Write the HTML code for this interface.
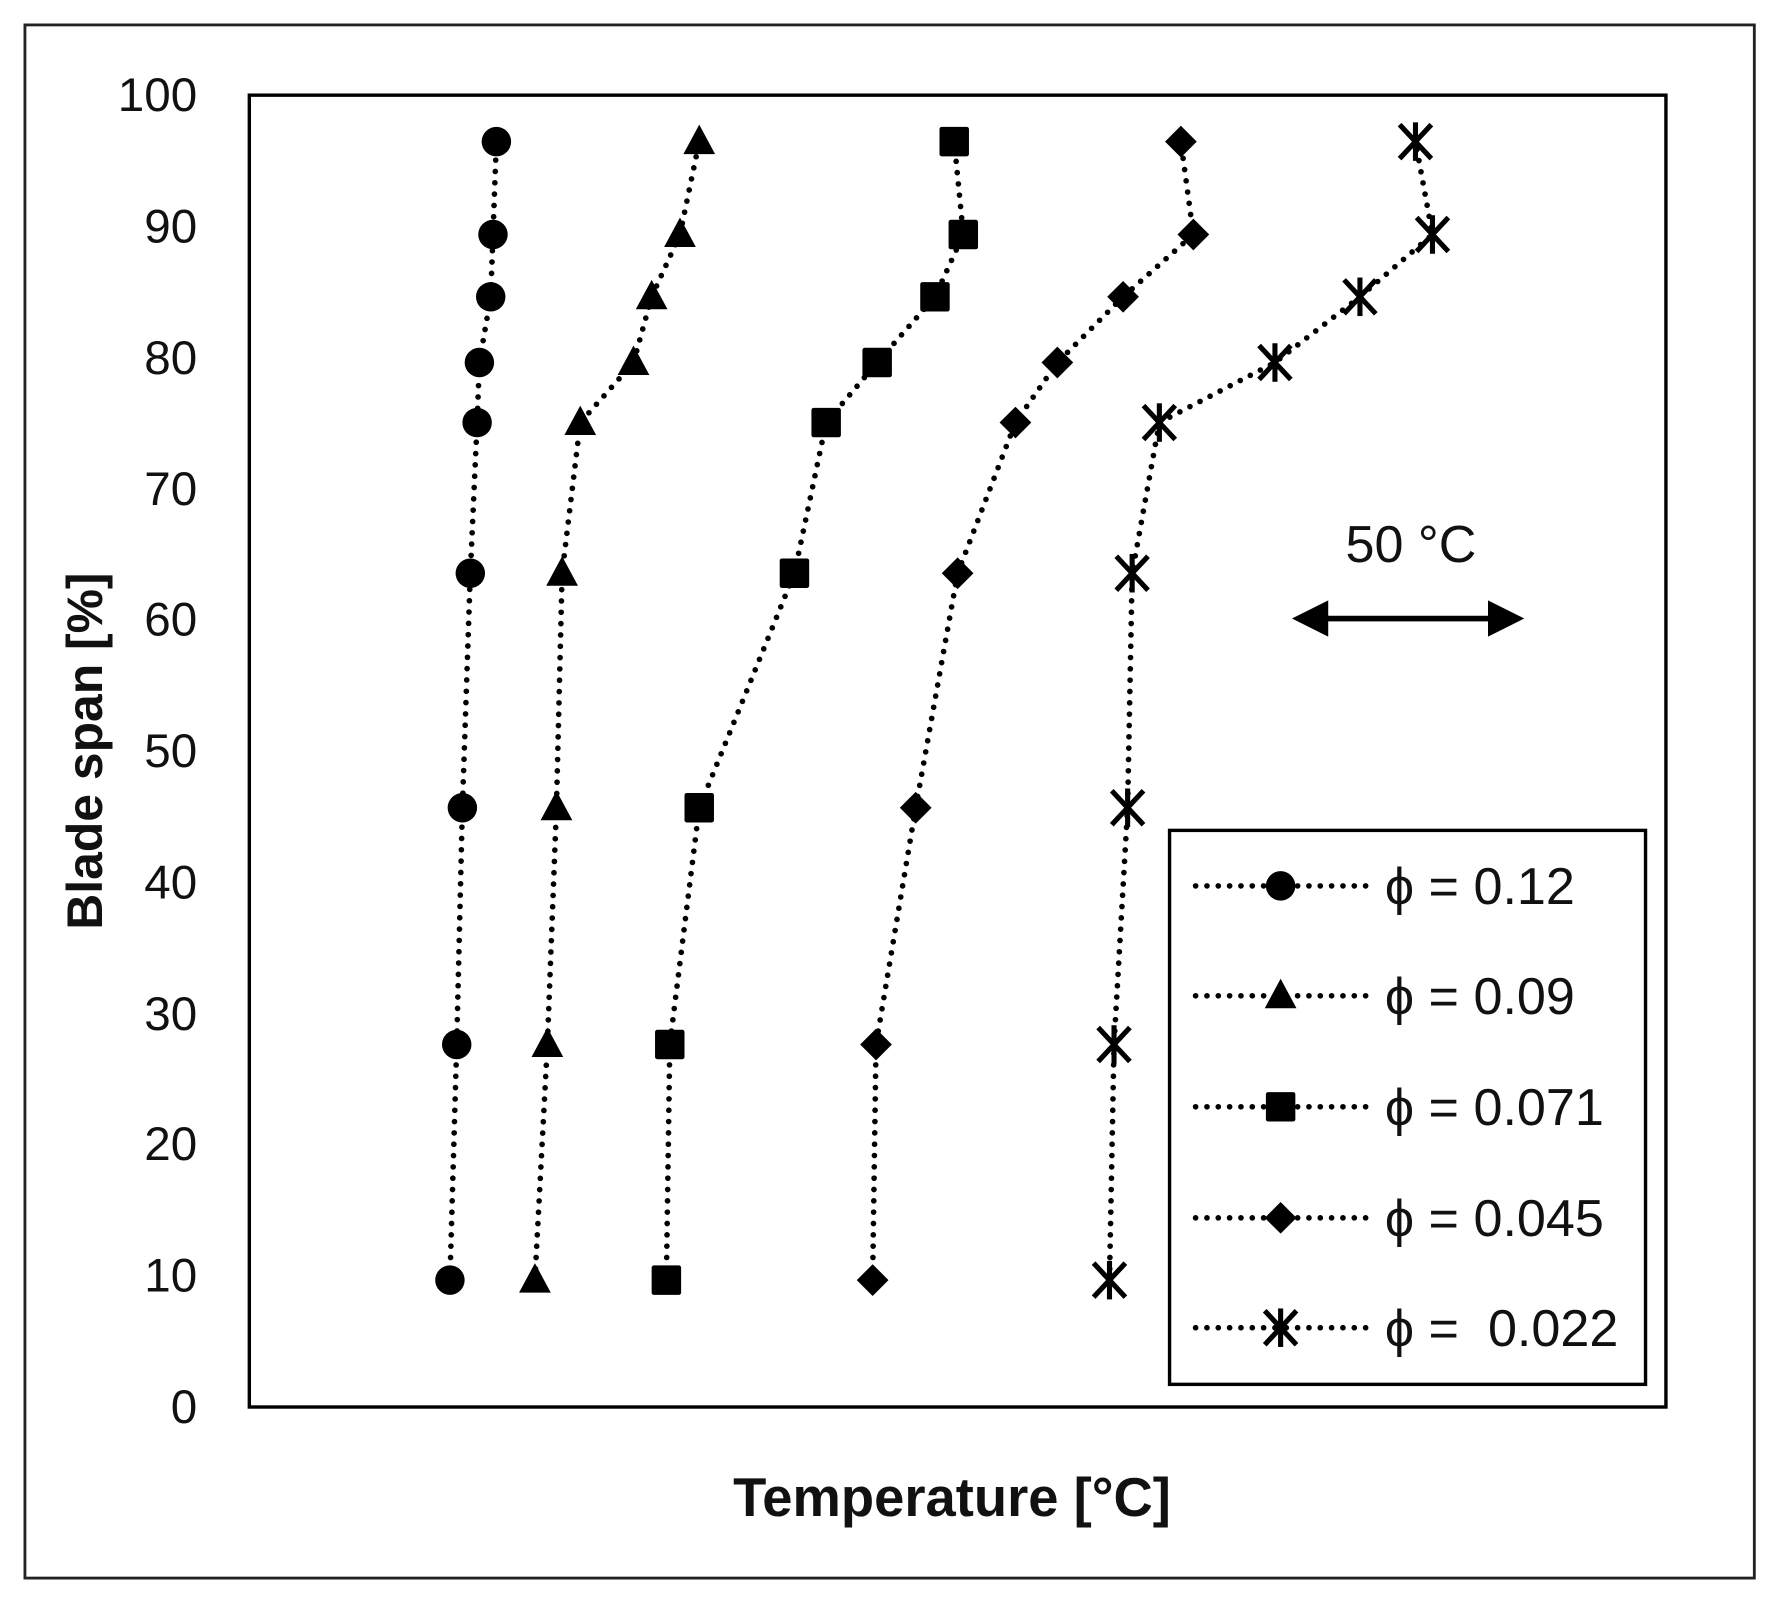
<!DOCTYPE html>
<html><head><meta charset="utf-8"><style>
html,body{margin:0;padding:0;background:#fff;}
svg{display:block;}
text{font-family:"Liberation Sans",sans-serif;fill:#111;}
</style></head><body>
<svg width="1777" height="1603" viewBox="0 0 1568 1415" preserveAspectRatio="none" xmlns="http://www.w3.org/2000/svg">
<defs>
<g id="c"><circle r="13" fill="#000"/></g>
<g id="t"><polygon points="0,-15 14,11 -14,11" fill="#000"/></g>
<g id="s"><rect x="-13" y="-13" width="26" height="26" rx="2" fill="#000"/></g>
<g id="d"><polygon points="0,-14 14,0 0,14 -14,0" fill="#000"/></g>
<g id="x" stroke="#000" stroke-width="4.5"><line x1="-14" y1="-15" x2="14" y2="15"/><line x1="14" y1="-15" x2="-14" y2="15"/><line x1="0" y1="-17" x2="0" y2="17"/></g>
</defs>
<rect x="22" y="22" width="1526" height="1371" fill="none" stroke="#222" stroke-width="2.5"/>
<rect x="220" y="84" width="1250" height="1158" fill="none" stroke="#000" stroke-width="3"/>
<g font-size="42" text-anchor="end">
<text x="174" y="1256">0</text><text x="174" y="1140">10</text><text x="174" y="1024">20</text><text x="174" y="909">30</text><text x="174" y="793">40</text><text x="174" y="677">50</text><text x="174" y="561">60</text><text x="174" y="446">70</text><text x="174" y="330">80</text><text x="174" y="214">90</text><text x="174" y="98">100</text>
</g>
<text transform="translate(90,663) rotate(-90)" font-size="44" font-weight="bold" text-anchor="middle">Blade span [%]</text>
<text x="840" y="1338" font-size="48" font-weight="bold" text-anchor="middle">Temperature [°C]</text>
<text x="1245" y="496" font-size="46" text-anchor="middle">50 °C</text>
<line x1="1160" y1="546" x2="1325" y2="546" stroke="#000" stroke-width="5"/>
<polygon points="1140,546 1172,530 1172,562" fill="#000"/>
<polygon points="1345,546 1313,530 1313,562" fill="#000"/>
<g fill="none" stroke="#000" stroke-width="5" stroke-linecap="round" stroke-dasharray="0 10">
<polyline points="397,1130 403,922 408,713 415,506 421,373 423,320 433,262 435,207 438,125"/>
<polyline points="472,1130 483,922 491,713 496,506 512,373 559,320 575,262 600,207 617,125"/>
<polyline points="588,1130 591,922 617,713 701,506 729,373 774,320 825,262 850,207 842,125"/>
<polyline points="770,1130 773,922 808,713 845,506 896,373 933,320 991,262 1053,207 1042,125"/>
<polyline points="979,1130 983,922 995,713 999,506 1023,373 1125,320 1200,262 1264,207 1249,125"/>
</g>
<g>
<use href="#c" x="397" y="1130"/><use href="#c" x="403" y="922"/><use href="#c" x="408" y="713"/><use href="#c" x="415" y="506"/><use href="#c" x="421" y="373"/><use href="#c" x="423" y="320"/><use href="#c" x="433" y="262"/><use href="#c" x="435" y="207"/><use href="#c" x="438" y="125"/>
<use href="#t" x="472" y="1130"/><use href="#t" x="483" y="922"/><use href="#t" x="491" y="713"/><use href="#t" x="496" y="506"/><use href="#t" x="512" y="373"/><use href="#t" x="559" y="320"/><use href="#t" x="575" y="262"/><use href="#t" x="600" y="207"/><use href="#t" x="617" y="125"/>
<use href="#s" x="588" y="1130"/><use href="#s" x="591" y="922"/><use href="#s" x="617" y="713"/><use href="#s" x="701" y="506"/><use href="#s" x="729" y="373"/><use href="#s" x="774" y="320"/><use href="#s" x="825" y="262"/><use href="#s" x="850" y="207"/><use href="#s" x="842" y="125"/>
<use href="#d" x="770" y="1130"/><use href="#d" x="773" y="922"/><use href="#d" x="808" y="713"/><use href="#d" x="845" y="506"/><use href="#d" x="896" y="373"/><use href="#d" x="933" y="320"/><use href="#d" x="991" y="262"/><use href="#d" x="1053" y="207"/><use href="#d" x="1042" y="125"/>
<use href="#x" x="979" y="1130"/><use href="#x" x="983" y="922"/><use href="#x" x="995" y="713"/><use href="#x" x="999" y="506"/><use href="#x" x="1023" y="373"/><use href="#x" x="1125" y="320"/><use href="#x" x="1200" y="262"/><use href="#x" x="1264" y="207"/><use href="#x" x="1249" y="125"/>
</g>
<rect x="1032" y="733" width="420" height="489" fill="#fff" stroke="#000" stroke-width="3"/>
<g fill="none" stroke="#000" stroke-width="5" stroke-linecap="round" stroke-dasharray="0 10">
<line x1="1055" y1="782" x2="1210" y2="782"/><line x1="1055" y1="879" x2="1210" y2="879"/><line x1="1055" y1="977" x2="1210" y2="977"/><line x1="1055" y1="1075" x2="1210" y2="1075"/><line x1="1055" y1="1172" x2="1210" y2="1172"/>
</g>
<use href="#c" x="1130" y="782"/><use href="#t" x="1130" y="879"/><use href="#s" x="1130" y="977"/><use href="#d" x="1130" y="1075"/><use href="#x" x="1130" y="1172"/>
<g font-size="46">
<text x="1222" y="798">ϕ = 0.12</text>
<text x="1222" y="895">ϕ = 0.09</text>
<text x="1222" y="993">ϕ = 0.071</text>
<text x="1222" y="1091">ϕ = 0.045</text>
<text x="1222" y="1188" xml:space="preserve">ϕ =  0.022</text>
</g>
</svg>
</body></html>
